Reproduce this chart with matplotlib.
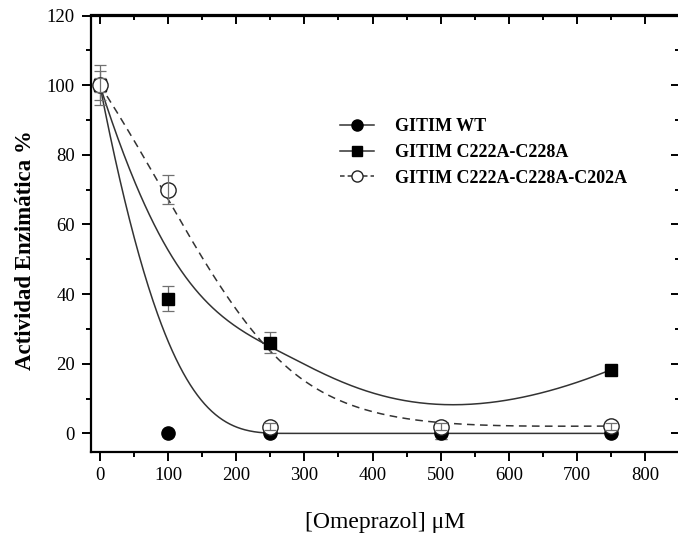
import numpy as np
import matplotlib
matplotlib.use("Agg")
import matplotlib.pyplot as plt
from matplotlib.lines import Line2D
from matplotlib.ticker import MultipleLocator

plt.rcParams['font.family'] = ['Liberation Serif', 'DejaVu Serif']

# ---- data ----
conc = [0, 100, 250, 500, 750]
wt = [100, 0, 0, 0, 0]
wt_err = [5.8, 0, 0, 0, 0]
c2 = [100, 38.7, 26.1, -1.5, 18.3]           # value at 500 hidden behind other markers
c2_err = [4.2, 3.6, 3.0, 0, 0.6]
c2_visible = [True, True, True, False, True]
c3 = [100, 70.0, 1.9, 1.9, 2.1]
c3_err = [2.0, 4.2, 1.0, 1.0, 1.0]

labels = ['GITIM WT', 'GITIM C222A-C228A', 'GITIM C222A-C228A-C202A']
xticks = [0, 100, 200, 300, 400, 500, 600, 700, 800]
yticks = [0, 20, 40, 60, 80, 100, 120]


def bspline(xs, ys, n=400, k=3):
    P = np.column_stack([xs, ys]).astype(float)
    m = len(P)
    inner = np.linspace(0, 1, m - k + 1)
    t = np.r_[[0.0] * k, inner, [1.0] * k]
    u = np.linspace(0, 1, n)
    u[-1] = 1 - 1e-12
    N = np.zeros((n, len(t) - 1))
    for i in range(len(t) - 1):
        N[:, i] = ((u >= t[i]) & (u < t[i + 1])).astype(float)
    for d in range(1, k + 1):
        Nn = np.zeros((n, len(t) - 1 - d))
        for i in range(len(t) - 1 - d):
            a = 0.0
            if t[i + d] != t[i]:
                a = (u - t[i]) / (t[i + d] - t[i]) * N[:, i]
            b = 0.0
            if t[i + d + 1] != t[i + 1]:
                b = (t[i + d + 1] - u) / (t[i + d + 1] - t[i + 1]) * N[:, i + 1]
            Nn[:, i] = a + b
        N = Nn
    C = N @ P
    return C[:, 0], C[:, 1]


W, H = 678, 533
fig = plt.figure(figsize=(W / 100, H / 100), dpi=100)
ax = fig.add_axes([91 / W, (H - 451.5) / H, (680 - 91) / W, (451.5 - 15.5) / H])

line_col = '#333333'
err_col = '#707070'

for ys, ls in [(wt, '-'), (c2, '-'), (c3, '--')]:
    bx, by = bspline(conc, ys)
    if ls == '--':
        ax.plot(bx, by, color=line_col, lw=1.1, ls='--', dashes=(5, 3.5), zorder=2)
    else:
        ax.plot(bx, by, color=line_col, lw=1.1, ls='-', zorder=2)

cap = 4.5
for ys, es, z in [(wt, wt_err, 3), (c2, c2_err, 3), (c3, c3_err, 6)]:
    ax.errorbar(conc, ys, yerr=es, fmt='none', ecolor=err_col, elinewidth=0.9,
                capsize=cap, capthick=0.9, zorder=z)

ax.plot(conc, wt, 'o', ms=9.5, color='black', mec='black', zorder=4)
cx = [x for x, v in zip(conc, c2_visible) if v]
cy = [y for y, v in zip(c2, c2_visible) if v]
ax.plot(cx, cy, 's', ms=9, color='black', mec='black', zorder=4)
ax.plot(conc, c3, 'o', ms=11, mfc='white', mec='#222222', mew=1.0, zorder=5)

ax.set_xlim(-13, 851)
ax.set_ylim(-5.2, 120)
ax.set_xticks(xticks)
ax.set_yticks(yticks)
ax.xaxis.set_minor_locator(MultipleLocator(50))
ax.yaxis.set_minor_locator(MultipleLocator(10))
for s in ax.spines.values():
    s.set_linewidth(1.6)
ax.tick_params(which='major', direction='out', length=6.5, width=1.4, labelsize=13.5, pad=5)
ax.tick_params(which='minor', direction='out', length=3.5, width=1.4)

secx = ax.secondary_xaxis('top')
secx.set_xticks(xticks)
secx.xaxis.set_minor_locator(MultipleLocator(50))
secx.tick_params(which='major', direction='in', length=6.5, width=1.4, labeltop=False)
secx.tick_params(which='minor', direction='in', length=3.5, width=1.4)
secy = ax.secondary_yaxis('right')
secy.set_yticks(yticks)
secy.yaxis.set_minor_locator(MultipleLocator(10))
secy.tick_params(which='major', direction='in', length=6.5, width=1.4, labelright=False)
secy.tick_params(which='minor', direction='in', length=3.5, width=1.4)
secx.spines['top'].set_linewidth(1.6)
secy.spines['right'].set_linewidth(1.6)

ax.set_xlabel('[Omeprazol] \u03bcM', fontsize=17, labelpad=20)
fig.text(26 / W, 1 - 250 / H, 'Actividad Enzimática %', rotation=90, fontsize=16.5,
         fontweight='bold', ha='center', va='center')

handles = [
    Line2D([], [], color=line_col, lw=1.1, marker='o', ms=8, mfc='black', mec='black'),
    Line2D([], [], color=line_col, lw=1.1, marker='s', ms=7.5, mfc='black', mec='black'),
    Line2D([], [], color=line_col, lw=1.1, ls='--', dashes=(3, 2), marker='o', ms=8,
           mfc='white', mec='#222222'),
]
ax.legend(handles, labels, loc='upper left', bbox_to_anchor=(0.4228, 0.764),
          frameon=False, prop={'size': 13, 'weight': 'bold'}, handlelength=1.9,
          handletextpad=1.15, labelspacing=0.48, borderpad=0, borderaxespad=0)

fig.savefig('out.png', dpi=100)
